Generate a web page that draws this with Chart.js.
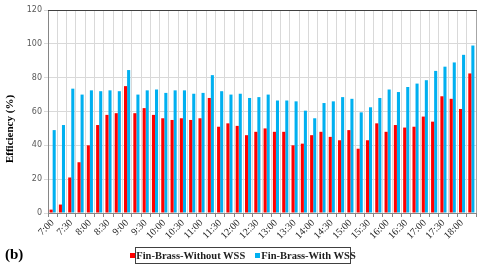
<!DOCTYPE html>
<html>
<head>
<meta charset="utf-8">
<script src="https://cdn.jsdelivr.net/npm/chart.js@4"></script>
<style>
  body { margin: 0; background: #fff; }
  .wrap { position: relative; width: 480px; height: 266px; }
  .panel {
    position: absolute; left: 5px; top: 246px;
    font: bold 15px "Liberation Serif", serif; color: #000;
  }
  .legend {
    position: absolute; left: 135px; top: 247px; width: 214px; height: 15px;
    border: 1px solid #404040; box-sizing: content-box;
    display: flex; align-items: center; justify-content: center; gap: 10px;
    font: bold 10.5px "Liberation Serif", serif; color: #1f1f1f;
    white-space: nowrap;
  }
  .legend span i {
    display: inline-block; width: 5px; height: 5px; margin-right: 1px;
    vertical-align: 1px;
  }
</style>
</head>
<body>
<div class="wrap">
  <canvas id="effChart" width="480" height="266"></canvas>
  <div class="panel">(b)</div>
  <div class="legend">
    <span><i style="background:#ff0000"></i>Fin-Brass-Without WSS</span>
    <span><i style="background:#00b0f0"></i>Fin-Brass-With WSS</span>
  </div>
</div>
<script>
  // categorias cada 15 min (solo se rotulan las medias horas)
  const categories = [
    "7:00", "7:15", "7:30", "7:45", "8:00", "8:15", "8:30", "8:45",
    "9:00", "9:15", "9:30", "9:45", "10:00", "10:15", "10:30", "10:45",
    "11:00", "11:15", "11:30", "11:45", "12:00", "12:15", "12:30", "12:45",
    "13:00", "13:15", "13:30", "13:45", "14:00", "14:15", "14:30", "14:45",
    "15:00", "15:15", "15:30", "15:45", "16:00", "16:15", "16:30", "16:45",
    "17:00", "17:15", "17:30", "17:45", "18:00", "18:15"
  ];

  const withoutWSS = [
    2, 5, 21, 30, 40, 52, 58, 59, 75, 59, 62, 58,
    56, 55, 56, 55, 56, 68, 51, 53, 51.5, 46, 48, 50,
    48, 48, 40, 41, 46, 48, 45, 43, 49, 38, 43, 53,
    48, 52, 50.5, 51, 57, 54, 69, 67.5, 61.5, 82.5
  ];

  const withWSS = [
    49, 52, 73.5, 70, 72.5, 72, 72.5, 72, 84.5, 70, 72.5, 73,
    71, 72.5, 72.5, 70.5, 71, 81.5, 72, 70, 70.5, 68, 68.5, 70,
    66.5, 66.5, 66, 60.5, 56, 65, 66, 68.5, 67.5, 59.5, 62.5, 68,
    73, 71.5, 74.5, 76.5, 78.5, 84, 86.5, 89, 93.5, 99
  ];

  const yTicks = [0, 20, 40, 60, 80, 100, 120];
  const yTitle = "Efficiency (%)";

  // marco superior/derecho y titulo del eje Y (un poco por debajo del centro)
  const frameBorder = {
    id: "frameBorder",
    afterDraw(chart) {
      const { ctx, chartArea: a } = chart;
      ctx.save();
      ctx.strokeStyle = "#a6a6a6";
      ctx.lineWidth = 1;
      ctx.beginPath();
      ctx.moveTo(a.right + 0.5, a.top);
      ctx.lineTo(a.right + 0.5, a.bottom);
      ctx.stroke();
      ctx.strokeStyle = "#404040";
      ctx.beginPath();
      ctx.moveTo(a.left, a.top + 0.5);
      ctx.lineTo(a.right + 1, a.top + 0.5);
      ctx.stroke();

      ctx.translate(10, 129);
      ctx.rotate(-Math.PI / 2);
      ctx.fillStyle = "#000";
      ctx.font = "bold 11px 'Liberation Serif'";
      ctx.textAlign = "center";
      ctx.textBaseline = "middle";
      ctx.fillText(yTitle, 0, 0);
      ctx.restore();
    },
  };

  new Chart(document.getElementById("effChart"), {
    type: "bar",
    data: {
      labels: categories,
      datasets: [
        {
          label: "Fin-Brass-Without WSS",
          data: withoutWSS,
          backgroundColor: "#ff0000",
          categoryPercentage: 0.66,
          barPercentage: 1,
        },
        {
          label: "Fin-Brass-With WSS",
          data: withWSS,
          backgroundColor: "#00b0f0",
          categoryPercentage: 0.66,
          barPercentage: 1,
        },
      ],
    },
    options: {
      responsive: false,
      animation: false,
      layout: { padding: { left: 0, right: 4, top: 10, bottom: 23 } },
      plugins: { legend: { display: false }, tooltip: { enabled: false } },
      scales: {
        x: {
          offset: true,
          grid: {
            offset: true,
            color: "#d9d9d9",
            tickLength: 4,
            tickColor: "#868686",
          },
          border: { color: "#868686" },
          ticks: {
            autoSkip: false,
            maxRotation: 45,
            minRotation: 45,
            padding: 0,
            color: "#262626",
            font: { family: "Liberation Serif", size: 10 },
            callback: (v, i) => (i % 2 === 0 ? categories[i] : ""),
          },
          afterFit: (s) => { s.height = 30; },
        },
        y: {
          min: 0,
          max: 120,
          afterBuildTicks: (s) => { s.ticks = yTicks.map((v) => ({ value: v })); },
          grid: { color: "#d9d9d9", tickLength: 4, tickColor: "#d9d9d9" },
          border: { color: "#868686" },
          ticks: {
            color: "#595959",
            padding: 2,
            font: { family: "DejaVu Sans", size: 8 },
          },
          afterFit: (s) => { s.width = 48; },
        },
      },
    },
    plugins: [frameBorder],
  });
</script>
</body>
</html>
